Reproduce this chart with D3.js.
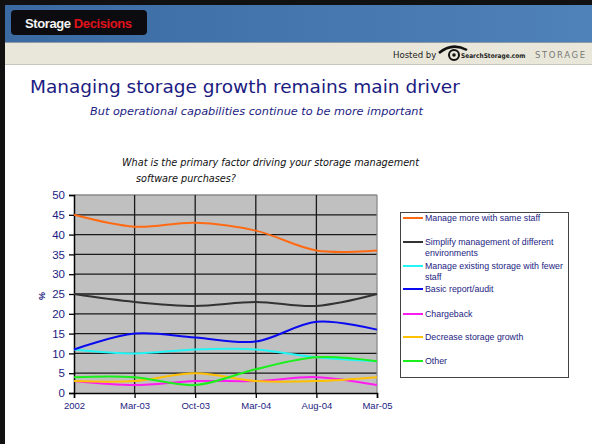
<!DOCTYPE html>
<html>
<head>
<meta charset="utf-8">
<script src="https://cdn.jsdelivr.net/npm/d3@7"></script>
<style>
  html, body { margin: 0; padding: 0; background: #fff; }
  svg { display: block; }
</style>
</head>
<body>
<div id="chart"></div>
<script>
// survey dates and share of respondents (%)
const periods = ["2002", "Mar-03", "Oct-03", "Mar-04", "Aug-04", "Mar-05"];
const manageMore = [45, 42, 43, 41, 36, 36];
const simplify = [25, 23, 22, 23, 22, 25];
const fewerStaff = [11, 10, 11, 11, 9, 8];
const basicReport = [11, 15, 14, 13, 18, 16];
const chargeback = [3, 2, 3, 3, 4, 2];
const decreaseGrowth = [3, 3, 5, 3, 3, 4];
const other = [4, 4, 2, 6, 9, 8];
const yTicks = [0, 5, 10, 15, 20, 25, 30, 35, 40, 45, 50];

const seriesNames = [
  "Manage more with same staff",
  "Simplify management of different environments",
  "Manage existing storage with fewer staff",
  "Basic report/audit",
  "Chargeback",
  "Decrease storage growth",
  "Other"
];
const seriesValues = [manageMore, simplify, fewerStaff, basicReport, chargeback, decreaseGrowth, other];
const seriesColors = ["#ff6a13", "#333333", "#22f5f5", "#0a0af0", "#ff1cf0", "#ffc000", "#1cf01c"];
// legend text wrapped like the original
const legendLines = [
  ["Manage more with same staff"],
  ["Simplify management of different", "environments"],
  ["Manage existing storage with fewer", "staff"],
  ["Basic report/audit"],
  ["Chargeback"],
  ["Decrease storage growth"],
  ["Other"]
];

const W = 592, H = 444;
const navy = "#1c1c82";
const svg = d3.select("#chart").append("svg")
  .attr("width", W).attr("height", H);

// --- slide header ---
const defs = svg.append("defs");
const grad = defs.append("linearGradient").attr("id", "hdr")
  .attr("x1", 0).attr("x2", 1).attr("y1", 0).attr("y2", 0);
grad.append("stop").attr("offset", "0%").attr("stop-color", "#3b6aa3");
grad.append("stop").attr("offset", "100%").attr("stop-color", "#4f82b8");

svg.append("rect").attr("x", 0).attr("y", 0).attr("width", W).attr("height", 42)
  .attr("fill", "url(#hdr)");
svg.append("rect").attr("x", 0).attr("y", 42).attr("width", W).attr("height", 22)
  .attr("fill", "#e9e7d9");
svg.append("line").attr("x1", 0).attr("x2", W).attr("y1", 42.5).attr("y2", 42.5)
  .attr("stroke", "#8d9aa8").attr("stroke-width", 1);
svg.append("line").attr("x1", 0).attr("x2", W).attr("y1", 64.5).attr("y2", 64.5)
  .attr("stroke", "#c9c7bb").attr("stroke-width", 1);
// frame
svg.append("rect").attr("x", 0).attr("y", 0).attr("width", W).attr("height", 5).attr("fill", "#111");
svg.append("rect").attr("x", 0).attr("y", 0).attr("width", 5).attr("height", H).attr("fill", "#111");

// logo
svg.append("rect").attr("x", 11).attr("y", 10).attr("width", 136).attr("height", 25)
  .attr("rx", 4).attr("fill", "#0c0c10");
const logo = svg.append("text").attr("x", 25).attr("y", 27.5)
  .attr("font-family", "Liberation Sans, Arial, sans-serif")
  .attr("font-weight", "bold").attr("font-size", 13).attr("letter-spacing", -0.4);
logo.append("tspan").attr("fill", "#f4f4f4").text("Storage ");
logo.append("tspan").attr("fill", "#e0121c").text("Decisions");

// hosted by
svg.append("text").attr("x", 393).attr("y", 58)
  .attr("font-family", "DejaVu Sans Condensed, sans-serif").attr("font-size", 9.5)
  .attr("fill", "#222").text("Hosted by");
svg.append("path").attr("d", "M439,53 Q452,42 467,50")
  .attr("fill", "none").attr("stroke", "#111").attr("stroke-width", 2.5);
svg.append("circle").attr("cx", 454).attr("cy", 55).attr("r", 5)
  .attr("fill", "none").attr("stroke", "#111").attr("stroke-width", 2);
svg.append("circle").attr("cx", 454).attr("cy", 55).attr("r", 1.8).attr("fill", "#111");
svg.append("text").attr("x", 461).attr("y", 58)
  .attr("font-family", "DejaVu Sans Condensed, sans-serif").attr("font-size", 6.5)
  .attr("font-weight", "bold").attr("fill", "#222").text("SearchStorage.com");
svg.append("text").attr("x", 535).attr("y", 58)
  .attr("font-family", "DejaVu Sans, sans-serif").attr("font-size", 8.5)
  .attr("letter-spacing", 1.6).attr("fill", "#777").text("STORAGE");

// titles
svg.append("text").attr("x", 30).attr("y", 93)
  .attr("font-family", "DejaVu Sans, Verdana, sans-serif").attr("font-size", 18.5)
  .attr("fill", navy).text("Managing storage growth remains main driver");
svg.append("text").attr("x", 90).attr("y", 115)
  .attr("font-family", "DejaVu Sans, Verdana, sans-serif").attr("font-size", 11.3)
  .attr("font-style", "italic").attr("fill", navy)
  .text("But operational capabilities continue to be more important");
svg.append("text").attr("x", 122).attr("y", 166)
  .attr("font-family", "DejaVu Sans, Verdana, sans-serif").attr("font-size", 9.7)
  .attr("font-style", "italic").attr("fill", "#111")
  .text("What is the primary factor driving your storage management");
svg.append("text").attr("x", 136).attr("y", 182)
  .attr("font-family", "DejaVu Sans, Verdana, sans-serif").attr("font-size", 9.7)
  .attr("font-style", "italic").attr("fill", "#111")
  .text("software purchases?");

// --- chart ---
const plot = { left: 74, right: 377, top: 195, bottom: 393 };
const x = d3.scalePoint().domain(periods).range([plot.left, plot.right]);
const y = d3.scaleLinear().domain([0, 50]).range([plot.bottom, plot.top]);

const g = svg.append("g");
g.append("rect").attr("x", plot.left).attr("y", plot.top)
  .attr("width", plot.right - plot.left).attr("height", plot.bottom - plot.top)
  .attr("fill", "#c0c0c0");

// horizontal gridlines
g.selectAll("line.hgrid").data(yTicks.filter(d => d > 0)).enter().append("line")
  .attr("class", "hgrid")
  .attr("x1", plot.left).attr("x2", plot.right)
  .attr("y1", d => y(d)).attr("y2", d => y(d))
  .attr("stroke", d => d === 50 ? "#8a8a8a" : "#1a1a1a").attr("stroke-width", 1.3);
// vertical gridlines
g.selectAll("line.vgrid").data(periods.slice(1)).enter().append("line")
  .attr("class", "vgrid")
  .attr("x1", d => x(d)).attr("x2", d => x(d))
  .attr("y1", plot.top).attr("y2", plot.bottom)
  .attr("stroke", d => d === "Mar-05" ? "#8a8a8a" : "#1a1a1a").attr("stroke-width", 1.3);

// axes
const yAxis = g.append("g").attr("transform", `translate(${plot.left},0)`)
  .call(d3.axisLeft(y).tickValues(yTicks).tickSize(5).tickPadding(4));
const xAxis = g.append("g").attr("transform", `translate(0,${plot.bottom})`)
  .call(d3.axisBottom(x).tickSize(5).tickPadding(4));
[yAxis, xAxis].forEach(a => {
  a.select(".domain").attr("stroke", "#000").attr("stroke-width", 1.5);
  a.selectAll(".tick line").attr("stroke", "#000").attr("stroke-width", 1.3);
  a.selectAll("text").attr("fill", navy).attr("font-family", "Liberation Sans, Arial, sans-serif");
});
yAxis.selectAll("text").attr("font-size", 11.5);
xAxis.selectAll("text").attr("font-size", 9.5);

svg.append("text")
  .attr("transform", "translate(45,296) rotate(-90)")
  .attr("text-anchor", "middle")
  .attr("font-family", "Liberation Sans, Arial, sans-serif").attr("font-size", 9)
  .attr("font-weight", "bold").attr("fill", navy).text("%");

// series lines
const line = d3.line()
  .x((d, i) => x(periods[i]))
  .y(d => y(d))
  .curve(d3.curveCardinal.tension(0));
g.selectAll("path.series").data(seriesValues).enter().append("path")
  .attr("class", "series")
  .attr("d", line)
  .attr("fill", "none")
  .attr("stroke", (d, i) => seriesColors[i])
  .attr("stroke-width", 2);

// legend
const lg = svg.append("g");
lg.append("rect").attr("x", 400.5).attr("y", 212.5).attr("width", 168).attr("height", 165)
  .attr("fill", "#fff").attr("stroke", "#444").attr("stroke-width", 1);
const legendY = [218, 242, 266, 289, 314, 337, 361];
const items = lg.selectAll("g.item").data(seriesNames).enter().append("g")
  .attr("class", "item")
  .attr("transform", (d, i) => `translate(403,${legendY[i]})`);
items.append("line").attr("x1", 0).attr("x2", 20).attr("y1", 0).attr("y2", 0)
  .attr("stroke", (d, i) => seriesColors[i]).attr("stroke-width", 2);
items.each(function(d, i) {
  const t = d3.select(this).append("text")
    .attr("x", 22).attr("y", 3)
    .attr("font-family", "Liberation Sans, Arial, sans-serif").attr("font-size", 8.8)
    .attr("fill", navy);
  legendLines[i].forEach((s, k) => {
    t.append("tspan").attr("x", 22).attr("dy", k === 0 ? 0 : 10.5).text(s);
  });
});
</script>
</body>
</html>
